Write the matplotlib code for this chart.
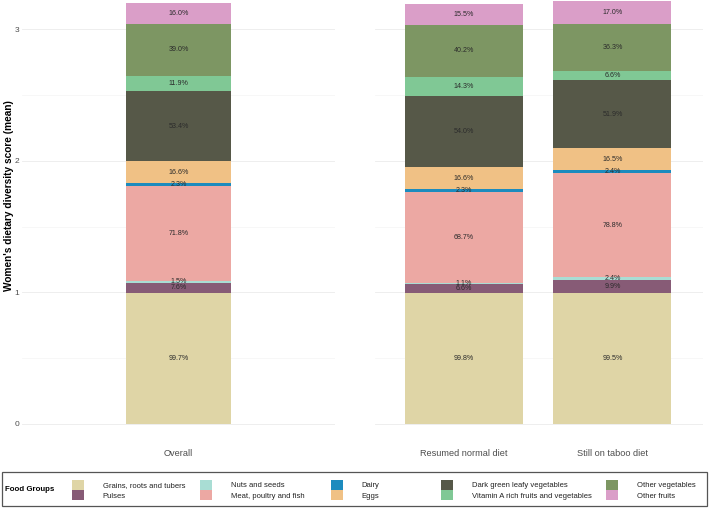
import numpy as np
import matplotlib
matplotlib.use("Agg")
import matplotlib.pyplot as plt
from matplotlib.patches import Patch, Rectangle

plt.rcParams['font.family'] = ['Liberation Sans', 'DejaVu Sans']

# food groups, bottom to top of the stack
groups = ["Grains, roots and tubers", "Pulses", "Nuts and seeds",
          "Meat, poultry and fish", "Dairy", "Eggs",
          "Dark green leafy vegetables", "Vitamin A rich fruits and vegetables",
          "Other vegetables", "Other fruits"]
colors = ["#DFD5A6", "#875B76", "#A9DDD4", "#ECA8A3", "#1C8BBE",
          "#F0C185", "#565848", "#80C895", "#7D9663", "#DA9EC8"]

overall_label = ["Overall"]
overall = [[99.7], [7.6], [1.5], [71.8], [2.3], [16.6], [53.4], [11.9], [39.0], [16.0]]

diet_labels = ["Resumed normal diet", "Still on taboo diet"]
diet = [[99.8, 99.5], [6.6, 9.9], [1.1, 2.4], [68.7, 78.8], [2.3, 2.4],
        [16.6, 16.5], [54.0, 51.9], [14.3, 6.6], [40.2, 36.3], [15.5, 17.0]]

fig = plt.figure(figsize=(7.09, 5.08), dpi=100)
W, H = 709, 508
ax1 = fig.add_axes([22 / W, 63 / H, 313 / W, 445 / H])
ax2 = fig.add_axes([375 / W, 63 / H, 328 / W, 445 / H])


def draw_panel(ax, labels, values, width):
    x = np.arange(len(labels))
    bottom = np.zeros(len(labels))
    for g, vals, c in zip(groups, values, colors):
        h = np.array(vals) / 100.0
        ax.bar(x, h, width, bottom=bottom, color=c, linewidth=0, zorder=2)
        for xi, b, hi, v in zip(x, bottom, h, vals):
            ax.text(xi, b + hi / 2, f"{v:.1f}%", ha="center", va="center",
                    fontsize=5.1, color="#2b2b2b", zorder=3)
        bottom += h
    ax.set_xticks(x)
    ax.set_xticklabels(labels, fontsize=6.6, color="#4D4D4D")
    ax.set_ylim(-0.16, 3.2226)
    ax.set_yticks([0, 1, 2, 3])
    ax.set_yticks([0.5, 1.5, 2.5], minor=True)
    ax.grid(axis="y", which="major", color="#EBEBEB", linewidth=0.6, zorder=0)
    ax.grid(axis="y", which="minor", color="#F4F4F4", linewidth=0.5, zorder=0)
    ax.tick_params(axis="both", which="both", length=0)
    ax.tick_params(axis="x", pad=3)
    ax.tick_params(axis="y", pad=2, labelsize=6, labelcolor="#4D4D4D")
    for s in ax.spines.values():
        s.set_visible(False)


draw_panel(ax1, overall_label, overall, 1.0)
ax1.set_xlim(-1.5, 1.5)
draw_panel(ax2, diet_labels, diet, 0.795)
ax2.set_xlim(-0.6, 1.61)
ax2.tick_params(axis="y", labelleft=False)

ax1.set_ylabel("Women's dietary diversity score (mean)", fontsize=7.3,
               fontweight="bold", color="black")
ax1.yaxis.set_label_coords(-8 / 313, (445 - 196) / 445)

# legend: frame, title, then one two-row column at a time (filled by row like ggplot)
fig.patches.append(Rectangle((2 / W, 2 / H), 705 / W, 34 / H, transform=fig.transFigure,
                             fill=False, edgecolor="#555555", linewidth=0.9))
fig.text(5 / W, 18.5 / H, "Food Groups", fontsize=5.7, fontweight="bold",
         va="center", ha="left")
col_x = [72, 200, 331, 441, 606]
for i, cx in enumerate(col_x):
    idx = [2 * i, 2 * i + 1]
    hs = [Patch(facecolor=colors[j], edgecolor="none") for j in idx]
    fig.legend(hs, [groups[j] for j in idx], loc="center left",
               bbox_to_anchor=(cx / W, 18 / H), frameon=False, fontsize=5.5,
               borderpad=0, borderaxespad=0, handlelength=1.55, handleheight=1.6,
               handletextpad=2.45, labelspacing=0.1, labelcolor="#222222")

fig.savefig("out.png", dpi=100)
